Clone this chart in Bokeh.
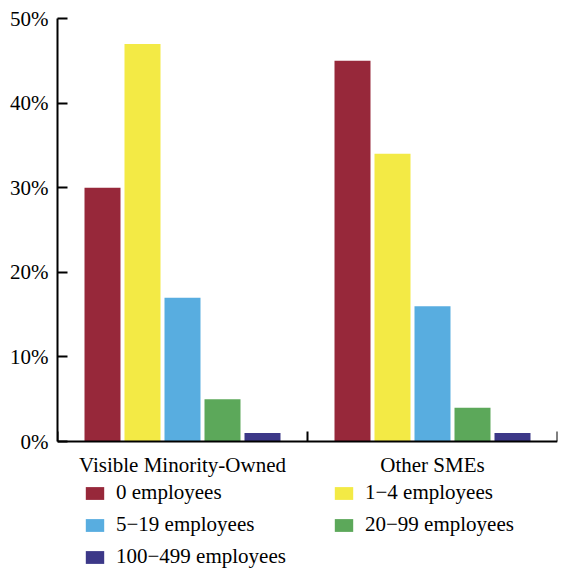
from bokeh.plotting import figure
from bokeh.models import (ColumnDataSource, FixedTicker, NumeralTickFormatter,
                          Legend, LegendItem, Range1d)
from bokeh.transform import dodge
from bokeh.embed import file_html
from bokeh.resources import INLINE

groups = ["Visible Minority-Owned", "Other SMEs"]
sizes = ["0 employees", "1\u22124 employees", "5\u221219 employees",
         "20\u221299 employees", "100\u2212499 employees"]
visible_minority = [30, 47, 17, 5, 1]
other_smes = [45, 34, 16, 4, 1]
colors = ["#97283A", "#F3EA45", "#58ADE0", "#5CA85A", "#3C3888"]

FONT = "Liberation Serif"

centers = [i + 0.5 for i in range(len(groups))]
data = {"x": centers}
for j, s in enumerate(sizes):
    data[f"s{j}"] = [visible_minority[j] / 100, other_smes[j] / 100]
source = ColumnDataSource(data)

# frame extends below the x axis to make room for the legend (128px below 0)
Y_MAX = 0.5
Y_MIN = -Y_MAX * 128 / 423

p = figure(width=561, height=569, output_backend="svg", toolbar_location=None,
           x_range=Range1d(0, len(groups)), y_range=Range1d(Y_MIN, Y_MAX),
           min_border_left=57, min_border_top=18, min_border_right=4,
           min_border_bottom=0, frame_width=500, frame_height=551)
p.outline_line_color = None
p.grid.grid_line_color = None
p.background_fill_color = "white"

offsets = [-0.32, -0.16, 0.0, 0.16, 0.32]
items = []
for j, s in enumerate(sizes):
    r = p.vbar(x=dodge("x", offsets[j], range=p.x_range), top=f"s{j}",
               width=0.144, source=source, fill_color=colors[j], line_color=None)
    items.append(LegendItem(label=s, renderers=[r]))

# axes
p.xaxis.fixed_location = 0
p.xaxis.ticker = FixedTicker(ticks=centers, minor_ticks=list(range(len(groups) + 1)))
p.xaxis.major_label_overrides = {c: g for c, g in zip(centers, groups)}
p.xaxis.major_tick_in = 0
p.xaxis.major_tick_out = 0
p.xaxis.minor_tick_in = 10
p.xaxis.minor_tick_out = 0
p.xaxis.minor_tick_line_width = 2
p.xaxis.axis_line_width = 2
p.xaxis.major_label_text_font = FONT
p.xaxis.major_label_text_font_size = "21px"
p.xaxis.major_label_text_color = "black"
p.xaxis.major_label_standoff = 11

p.yaxis.bounds = (0, Y_MAX)
p.yaxis.ticker = FixedTicker(ticks=[0, 0.1, 0.2, 0.3, 0.4, 0.5], minor_ticks=[])
p.yaxis.formatter = NumeralTickFormatter(format="0%")
p.yaxis.major_tick_in = 10
p.yaxis.major_tick_out = 0
p.yaxis.major_tick_line_width = 2
p.yaxis.axis_line_width = 2
p.yaxis.major_label_text_font = FONT
p.yaxis.major_label_text_font_size = "21px"
p.yaxis.major_label_text_color = "black"
p.yaxis.major_label_standoff = 9

legend = Legend(items=items, ncols=2, orientation="horizontal", location=(26, 0),
                label_text_font=FONT, label_text_font_size="21px",
                label_text_color="black",
                glyph_width=23, glyph_height=16, label_standoff=10,
                label_width=209, label_height=22, spacing=7, padding=0, margin=0,
                border_line_color=None, background_fill_alpha=0)
p.add_layout(legend, "center")

open("out.html", "w").write(file_html(p, INLINE))
